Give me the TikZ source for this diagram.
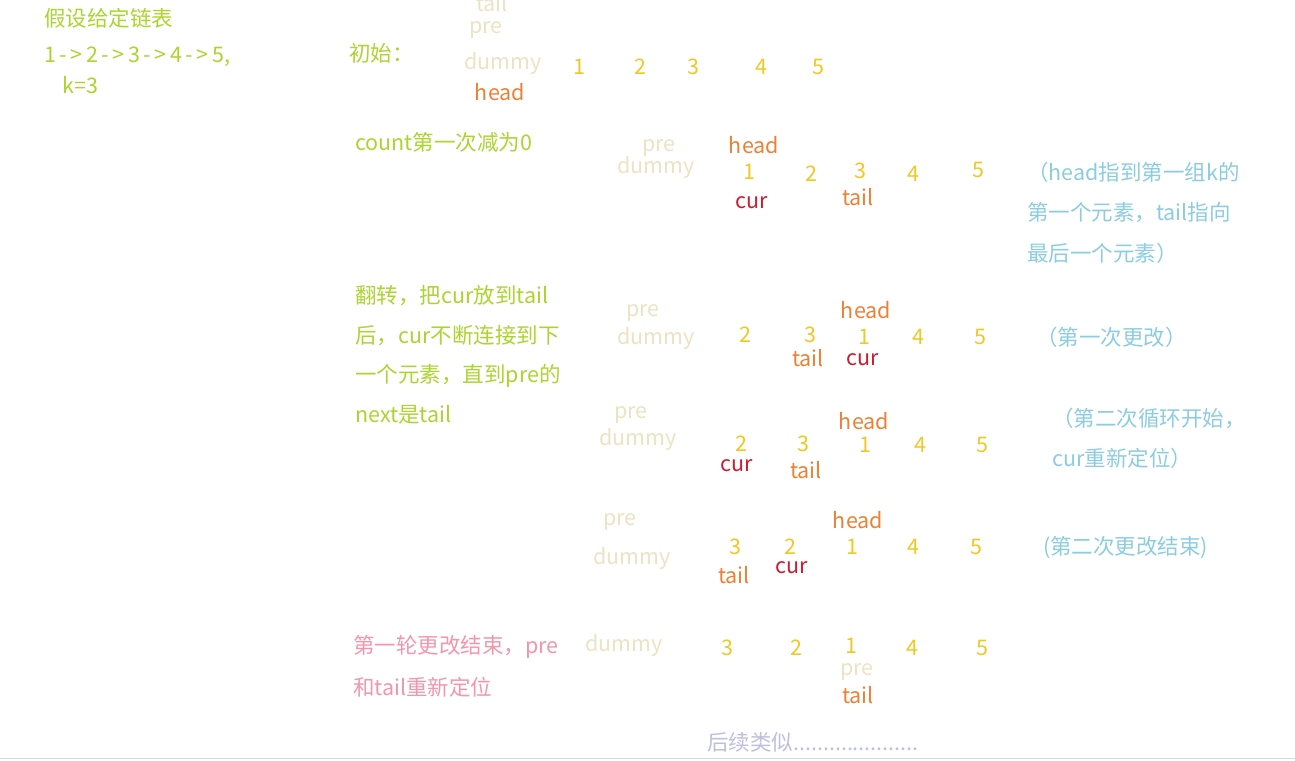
\documentclass[tikz,border=0pt]{standalone}
\usepackage{fontspec}
\setmainfont{Noto Sans CJK SC}
\usepackage{tikz}

\definecolor{lime}{RGB}{172,212,48}
\definecolor{beige}{RGB}{236,226,196}
\definecolor{ptrorange}{RGB}{236,128,52}
\definecolor{numgold}{RGB}{240,200,36}
\definecolor{crimson}{RGB}{204,28,48}
\definecolor{skyblue}{RGB}{140,204,224}
\definecolor{rosepink}{RGB}{242,150,172}
\definecolor{lavender}{RGB}{190,190,222}

\begin{document}
\begin{tikzpicture}[x=1pt,y=1pt,
  every node/.style={inner sep=0pt,font=\fontsize{21.5}{25}\selectfont},
  note/.style={anchor=west,text=lime},
  memo/.style={anchor=west,text=skyblue},
  ghost/.style={text=beige},
  num/.style={text=numgold},
  hd/.style={text=ptrorange},
  tl/.style={text=ptrorange},
  cr/.style={text=crimson}]
\useasboundingbox (0,0) rectangle (1295,-760);
\draw [black!15, line width=1.5pt] (0,-758.5) -- (1295,-758.5);
% given list
\node [note] (given) at (44,-18) {假设给定链表};
\node [note] (list) at (44,-57) {1\,-\,>\,2\,-\,>\,3\,-\,>\,4\,-\,>\,5,};
\node [note] (kval) at (62,-85) {k=3};
% initial
\node [note] (init) at (349,-53) {初始：};
\node [ghost] (taila) at (492,-3) {tail};
\node [ghost] (prea) at (486,-30) {pre};
\node [ghost] (dummya) at (503,-63) {dummy};
\node [hd] (heada) at (500,-92) {head};
\node [num] (a1) at (579,-67) {1};
\node [num] (a2) at (640,-67) {2};
\node [num] (a3) at (693,-67) {3};
\node [num] (a4) at (761,-67) {4};
\node [num] (a5) at (818,-67) {5};
% count reaches 0
\node [note] (count) at (355,-142) {count第一次减为0};
\node [ghost] (preb) at (659,-148) {pre};
\node [ghost] (dummyb) at (656,-167) {dummy};
\node [hd] (headb) at (754,-145) {head};
\node [num] (b1) at (749,-172) {1};
\node [num] (b2) at (811,-174) {2};
\node [num] (b3) at (860,-171) {3};
\node [num] (b4) at (913,-174) {4};
\node [num] (b5) at (978,-170) {5};
\node [cr] (curb) at (752,-203) {cur};
\node [tl] (tailb) at (858,-197) {tail};
\node [memo] (memob1) at (1027,-172) {（head指到第一组k的};
\node [memo] (memob2) at (1027,-213) {第一个元素，tail指向};
\node [memo] (memob3) at (1027,-253) {最后一个元素）};
% reverse
\node [note] (rev1) at (355,-296) {翻转，把cur放到tail};
\node [note] (rev2) at (355,-336) {后，cur不断连接到下};
\node [note] (rev3) at (355,-376) {一个元素，直到pre的};
\node [note] (rev4) at (355,-415) {next是tail};
\node [ghost] (prec) at (643,-313) {pre};
\node [ghost] (dummyc) at (656,-338) {dummy};
\node [hd] (headc) at (866,-310) {head};
\node [num] (c2) at (745,-335) {2};
\node [num] (c3) at (810,-335) {3};
\node [num] (c1) at (864,-337) {1};
\node [num] (c4) at (918,-337) {4};
\node [num] (c5) at (980,-337) {5};
\node [tl] (tailc) at (808,-358) {tail};
\node [cr] (curc) at (863,-360) {cur};
\node [memo] (memoc) at (1036,-337) {（第一次更改）};
% second loop
\node [ghost] (pred) at (631,-415) {pre};
\node [ghost] (dummyd) at (638,-439) {dummy};
\node [hd] (headd) at (864,-421) {head};
\node [num] (d2) at (741,-444) {2};
\node [num] (d3) at (803,-444) {3};
\node [num] (d1) at (865,-445) {1};
\node [num] (d4) at (920,-445) {4};
\node [num] (d5) at (982,-445) {5};
\node [cr] (curd) at (737,-466) {cur};
\node [tl] (taild) at (806,-470) {tail};
\node [memo] (memod1) at (1052,-418) {（第二次循环开始，};
\node [memo] (memod2) at (1052,-458) {cur重新定位）};
% second change done
\node [ghost] (pree) at (620,-522) {pre};
\node [ghost] (dummye) at (632,-558) {dummy};
\node [hd] (heade) at (858,-520) {head};
\node [num] (e3) at (735,-547) {3};
\node [num] (e2) at (790,-547) {2};
\node [num] (e1) at (852,-547) {1};
\node [num] (e4) at (913,-547) {4};
\node [num] (e5) at (976,-547) {5};
\node [tl] (taile) at (734,-575) {tail};
\node [cr] (cure) at (792,-568) {cur};
\node [memo] (memoe) at (1043,-548) {(第二次更改结束)};
% first round done
\node [anchor=west, text=rosepink] (end1) at (353,-647) {第一轮更改结束，pre};
\node [anchor=west, text=rosepink] (end2) at (353,-687) {和tail重新定位};
\node [ghost] (dummyf) at (624,-645) {dummy};
\node [num] (f3) at (727,-648) {3};
\node [num] (f2) at (796,-648) {2};
\node [num] (f1) at (851,-646) {1};
\node [num] (f4) at (912,-648) {4};
\node [num] (f5) at (982,-648) {5};
\node [ghost] (pref) at (857,-672) {pre};
\node [tl] (tailf) at (858,-695) {tail};
\node [anchor=west, text=lavender] (rest) at (707,-742) {后续类似.....................};
\end{tikzpicture}
\end{document}
